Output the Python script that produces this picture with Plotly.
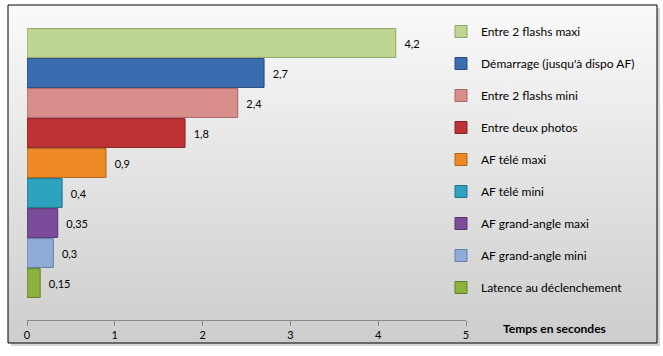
import base64
import plotly.graph_objects as go

# ---- data ----
categories = [
    "Entre 2 flashs maxi",
    "Démarrage (jusqu'à dispo AF)",
    "Entre 2 flashs mini",
    "Entre deux photos",
    "AF télé maxi",
    "AF télé mini",
    "AF grand-angle maxi",
    "AF grand-angle mini",
    "Latence au déclenchement",
]
values = [4.2, 2.7, 2.4, 1.8, 0.9, 0.4, 0.35, 0.3, 0.15]
colors = ["#BFD692", "#3A6CB0", "#D98E8C", "#BE3236", "#EE8A26",
          "#2EA3BF", "#7A4C9A", "#90ABD5", "#8DB23D"]
edges = ["#8FA56A", "#264A7E", "#A86665", "#8A2024", "#B0631A",
         "#1E7388", "#56346E", "#6680A6", "#637E2A"]
x_ticks = [0, 1, 2, 3, 4, 5]
x_title = "Temps en secondes"

FONT = "Lato"

fig = go.Figure()
for name, v, c, e in zip(categories, values, colors, edges):
    fig.add_trace(go.Bar(
        x=[v], y=[name], orientation="h", name=name,
        marker=dict(color=c, line=dict(color=e, width=1)),
        width=0.96,
        text=["\u00a0\u00a0" + ("%g" % v).replace(".", ",")],
        textposition="outside",
        textfont=dict(family=FONT, size=11, color="#000000"),
        cliponaxis=False,
        legendgroup=name,
        hoverinfo="skip",
    ))

W, H = 663, 356
ml, mr, mt, mb = 27, 197, 8, 36
pw, ph = W - ml - mr, H - mt - mb

def px_x(p):
    return (p - ml) / pw

def px_y(p):
    return (H - mb - p) / ph

# background: border box 8..657 x 5..343 with a soft shadow 3px offset
bl, br, bt, bb = 8, 657, 5, 343
ix0, ix1, iy0, iy1 = bl, br + 3, bt, bb + 3
iw, ih = ix1 - ix0, iy1 - iy0
svg = ('<svg xmlns="http://www.w3.org/2000/svg" width="%d" height="%d" viewBox="0 0 %d %d" preserveAspectRatio="none">'
       '<defs><linearGradient id="g" x1="0" y1="0" x2="0" y2="1">'
       '<stop offset="0" stop-color="#fafafa"/><stop offset="1" stop-color="#cdcdcd"/>'
       '</linearGradient></defs>'
       '<rect x="3" y="3" width="%d" height="%d" fill="#d4d4d4"/>'
       '<rect x="0" y="0" width="%d" height="%d" fill="url(#g)"/></svg>'
       % (iw, ih, iw, ih, iw - 3, ih - 3, iw - 3, ih - 3))
src = "data:image/svg+xml;base64," + base64.b64encode(svg.encode()).decode()

fig.update_layout(
    width=W, height=H,
    margin=dict(l=ml, r=mr, t=mt, b=mb, pad=0, autoexpand=False),
    paper_bgcolor="white", plot_bgcolor="rgba(0,0,0,0)",
    barmode="overlay",
    showlegend=True,
    legend=dict(
        x=px_x(441), y=px_y(17), xanchor="left", yanchor="top",
        bgcolor="rgba(0,0,0,0)",
        traceorder="grouped", tracegroupgap=13,
        font=dict(family=FONT, size=12, color="#000000"),
        itemclick=False,
    ),
    xaxis=dict(
        range=[0, 5], tickvals=x_ticks, ticktext=[str(t) for t in x_ticks],
        showgrid=False, zeroline=False,
        showline=True, linecolor="#888888", linewidth=1,
        ticks="outside", ticklen=5, tickcolor="#888888",
        tickfont=dict(family=FONT, size=11, color="#000000"),
        fixedrange=True,
    ),
    yaxis=dict(
        type="category",
        categoryorder="array", categoryarray=categories[::-1],
        range=[-1.233, 9.167],
        visible=False, fixedrange=True,
    ),
    images=[dict(source=src, xref="paper", yref="paper",
                 x=px_x(ix0), y=px_y(iy0), sizex=iw / pw, sizey=ih / ph,
                 xanchor="left", yanchor="top", sizing="stretch", layer="below")],
    shapes=[
        dict(type="rect", xref="paper", yref="paper",
             x0=px_x(bl), x1=px_x(br), y0=px_y(bt), y1=px_y(bb),
             fillcolor="rgba(0,0,0,0)", line=dict(color="#000000", width=1), layer="above"),
    ],
    annotations=[dict(text="<b>" + x_title + "</b>", xref="paper", yref="paper",
                      x=px_x(501), y=px_y(328), xanchor="left", yanchor="middle",
                      showarrow=False, font=dict(family=FONT, size=12, color="#000000"))],
)

fig.write_html("out.html", config={"displayModeBar": False},
               post_script="document.body.style.margin='0';document.body.style.overflow='hidden';")
